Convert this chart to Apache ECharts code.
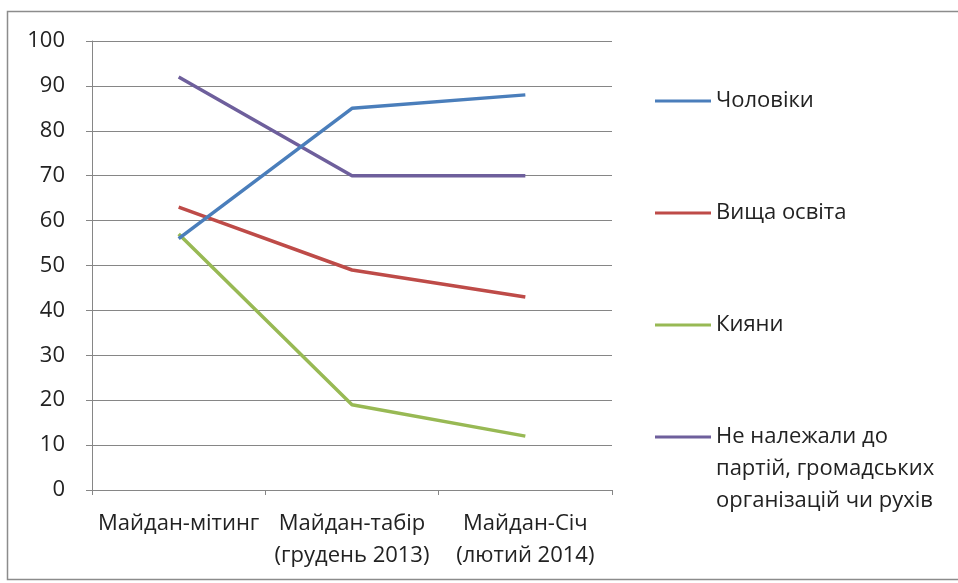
<!DOCTYPE html>
<html>
<head>
<meta charset="utf-8">
<script src="https://cdn.jsdelivr.net/npm/echarts@6/dist/echarts.min.js"></script>
<style>
html,body{margin:0;padding:0;background:#fff;}
#c{width:958px;height:583px;}
</style>
</head>
<body>
<div id="c"></div>
<script>
const categories = ['Майдан-мітинг', 'Майдан-табір\n(грудень 2013)', 'Майдан-Січ\n(лютий 2014)'];
const seriesNames = ['Чоловіки', 'Вища освіта', 'Кияни', 'Не належали до\nпартій, громадських\nорганізацій чи рухів'];
const men = [56, 85, 88];
const higherEdu = [63, 49, 43];
const kyivans = [57, 19, 12];
const nonMembers = [92, 70, 70];
const yTicks = [0, 10, 20, 30, 40, 50, 60, 70, 80, 90, 100];

const colors = ['#4A7EBB', '#BE4B48', '#98B954', '#6E5F9C'];
const values = [men, higherEdu, kyivans, nonMembers];
const font = '"Open Sans", "Noto Sans", sans-serif';
const fs = 22;

const chart = echarts.init(document.getElementById('c'), null, {renderer: 'canvas'});
const legendTops = [80, 192, 304, 352];
const legends = seriesNames.map((n, i) => ({
  data: [n],
  left: 650,
  top: legendTops[i],
  orient: 'vertical',
  itemWidth: 56,
  itemHeight: 3,
  icon: 'rect',
  selectedMode: false,
  formatter: i === 3 ? (name => '\n\n' + name) : (name => name),
  textStyle: {fontFamily: font, fontSize: fs, color: '#222', lineHeight: 32}
}));

chart.setOption({
  animation: false,
  backgroundColor: '#fff',
  graphic: [{
    type: 'rect',
    shape: {x: 7.5, y: 11.5, width: 1000, height: 568},
    style: {fill: 'none', stroke: '#8c8c8c', lineWidth: 1.5}
  }],
  grid: {left: 92, right: 346, top: 41, bottom: 93, containLabel: false},
  legend: legends,
  xAxis: {
    type: 'category',
    data: categories,
    boundaryGap: true,
    axisLine: {lineStyle: {color: '#868686', width: 1}},
    axisTick: {show: true, length: 5, lineStyle: {color: '#868686'}},
    axisLabel: {fontFamily: font, fontSize: fs, color: '#222', margin: 18, lineHeight: 32, interval: 0}
  },
  yAxis: {
    type: 'value',
    min: yTicks[0],
    max: yTicks[yTicks.length - 1],
    interval: 10,
    axisLine: {show: true, lineStyle: {color: '#868686'}},
    axisTick: {show: true, length: 6, lineStyle: {color: '#868686'}},
    splitLine: {lineStyle: {color: '#868686', width: 1}},
    axisLabel: {fontFamily: font, fontSize: fs, color: '#222', margin: 27}
  },
  series: seriesNames.map((n, i) => ({
    name: n,
    type: 'line',
    data: values[i],
    color: colors[i],
    symbol: 'none',
    lineStyle: {width: 3.5, color: colors[i]},
    z: 10 - i
  }))
});
</script>
</body>
</html>
